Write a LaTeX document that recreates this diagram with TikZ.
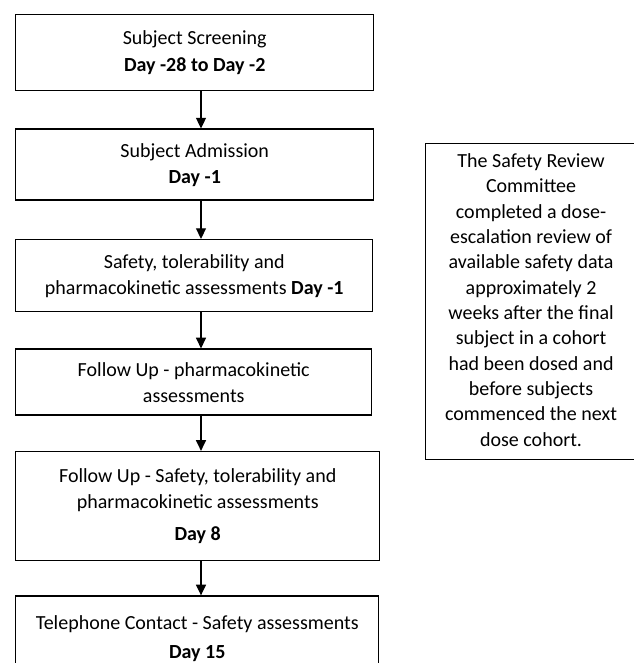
\documentclass[tikz,border=0pt]{standalone}
\usepackage{fontspec}
\setmainfont{Carlito}
\usepackage{tikz}
\usetikzlibrary{positioning}
\usetikzlibrary{arrows.meta}

\tikzset{
  stage/.style={draw, line width=1.1pt, align=center, inner sep=0pt,
    font=\fontsize{15}{19.5}\selectfont},
  note/.style={draw, line width=1.1pt, align=center, inner sep=0pt,
    font=\fontsize{15}{19}\selectfont},
  flow/.style={line width=1pt, -{Triangle[width=7.5pt,length=8pt]}}
}

\begin{document}
\begin{tikzpicture}
    \useasboundingbox (0,0) rectangle (474.75pt,-497.25pt);
    \coordinate(ax) at (150.75pt,0);

    \node(screen) [stage, anchor=north west, minimum width=268.5pt, minimum height=57pt]
      at (11.25pt,-10.5pt) {Subject Screening\\[1pt] \textbf{Day -28 to Day -2}};
    \node(admit) [stage, below=27.75pt of screen.south west, anchor=north west,
      minimum width=268.5pt, minimum height=53.25pt]
      {Subject Admission\\ \textbf{Day -1}};
    \node(assess) [stage, below=28.5pt of admit.south west, anchor=north west,
      minimum width=267.75pt, minimum height=54pt]
      {Safety, tolerability and\\ pharmacokinetic assessments \textbf{Day -1}};
    \node(pk) [stage, below=27pt of assess.south west, anchor=north west,
      minimum width=267pt, minimum height=49.5pt]
      {Follow Up - pharmacokinetic\\ assessments};
    \node(day8) [stage, below=26.25pt of pk.south west, anchor=north west,
      minimum width=273pt, minimum height=81.75pt]
      {Follow Up - Safety, tolerability and\\ pharmacokinetic assessments\\[5pt] \textbf{Day 8}};
    \node(day15) [stage, below=25.5pt of day8.south west, anchor=north west,
      minimum width=272.25pt, minimum height=63.75pt]
      {Telephone Contact - Safety assessments\\[2pt] \textbf{Day 15}};

    % note box runs past the right edge of the page
    \node(src) [note, anchor=north west, minimum width=166pt, minimum height=237pt]
      at (318.75pt,-107.25pt)
      {\hspace*{-6pt}\begin{tabular}{@{}c@{}}The Safety Review\\ Committee\\ completed a dose-\\ escalation review of\\
       available safety data\\ approximately 2\\ weeks after the final\\
       subject in a cohort\\ had been dosed and\\ before subjects\\
       commenced the next\\ dose cohort.\end{tabular}\hspace*{2pt}};

    \draw[flow](screen.south -| ax) -- (admit.north -| ax);
    \draw[flow](admit.south -| ax) -- (assess.north -| ax);
    \draw[flow](assess.south -| ax) -- (pk.north -| ax);
    \draw[flow](pk.south -| ax) -- (day8.north -| ax);
    \draw[flow](day8.south -| ax) -- (day15.north -| ax);
\end{tikzpicture}
\end{document}
